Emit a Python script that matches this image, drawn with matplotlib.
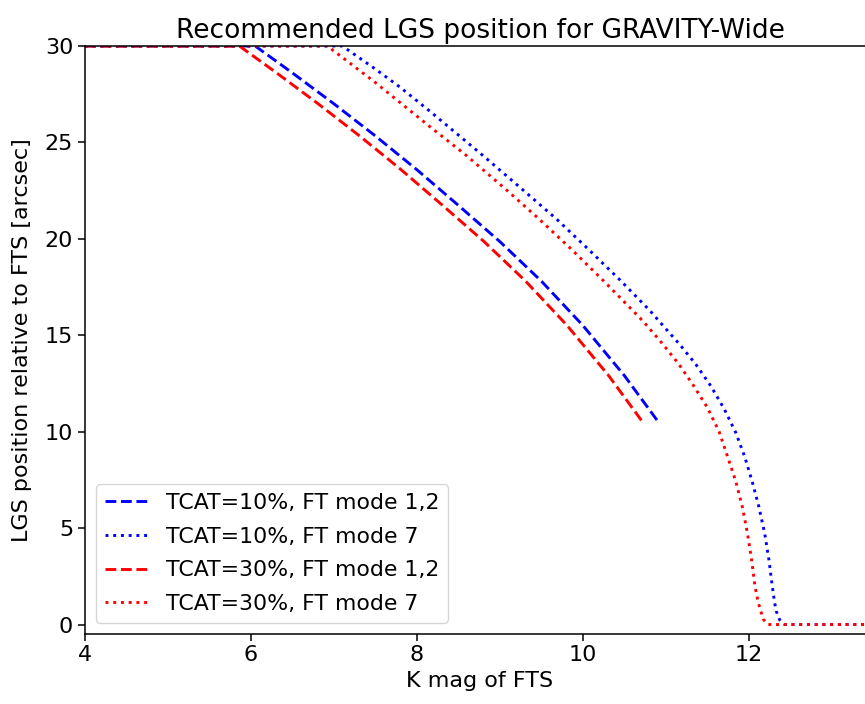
import matplotlib
matplotlib.use("Agg")
import matplotlib.pyplot as plt

# TCAT=10%, FT mode 1,2
x_b12 = [4.0, 6.05, 6.5, 7.0, 7.5, 8.0, 8.5, 9.0, 9.5, 10.0, 10.5, 10.9]
y_b12 = [30.0, 30.0, 28.6, 27.0, 25.33, 23.58, 21.73, 19.85, 17.8, 15.5, 12.9, 10.55]
# TCAT=10%, FT mode 7
x_b7 = [4.0, 7.1, 7.5, 7.8, 8.16, 8.8, 9.27, 9.68, 10.06, 10.44, 10.81, 10.95,
        11.16, 11.36, 11.54, 11.7, 11.84, 11.95, 12.04, 12.12, 12.19, 12.24,
        12.28, 12.31, 12.33, 12.37, 12.43, 14.0]
y_b7 = [30.0, 30.0, 28.8, 27.85, 26.6, 24.3, 22.56, 21.03, 19.48, 17.89, 16.26, 15.57,
        14.55, 13.49, 12.37, 11.19, 9.96, 8.68, 7.39, 6.09, 4.7, 3.36,
        2.0, 1.1, 0.67, 0.24, 0.0, 0.0]
# TCAT=30%, FT mode 1,2
x_r12 = [4.0, 5.86, 6.31, 6.81, 7.31, 7.81, 8.31, 8.81, 9.31, 9.81, 10.31, 10.71]
y_r12 = [30.0, 30.0, 28.6, 27.0, 25.33, 23.58, 21.73, 19.85, 17.8, 15.5, 12.9, 10.55]
# TCAT=30%, FT mode 7
x_r7 = [4.0, 6.92, 7.5, 8.16, 8.59, 9.07, 9.46, 9.85, 10.23, 10.6, 10.73, 10.95,
        11.15, 11.33, 11.5, 11.64, 11.74, 11.84, 11.92, 11.98, 12.03, 12.07,
        12.11, 12.14, 12.17, 12.23, 14.0]
y_r7 = [30.0, 30.0, 28.1, 25.8, 24.34, 22.57, 21.07, 19.5, 17.9, 16.28, 15.7, 14.6,
        13.53, 12.4, 11.24, 10.0, 8.73, 7.44, 6.1, 4.76, 3.41, 2.04,
        1.16, 0.73, 0.28, 0.0, 0.0]

labels = ["TCAT=10%, FT mode 1,2", "TCAT=10%, FT mode 7",
          "TCAT=30%, FT mode 1,2", "TCAT=30%, FT mode 7"]

W, H = 865, 704
fig = plt.figure(figsize=(W/100, H/100), dpi=100)
left, right, top, bottom = 85, 875, 46, 633.6
ax = fig.add_axes([left/W, 1-bottom/H, (right-left)/W, (bottom-top)/H])

lw = 2.1
ax.plot(x_b12, y_b12, color="blue", ls="--", lw=lw, label=labels[0])
ax.plot(x_b7, y_b7, color="blue", ls=":", lw=lw, label=labels[1])
ax.plot(x_r12, y_r12, color="red", ls="--", lw=lw, label=labels[2])
ax.plot(x_r7, y_r7, color="red", ls=":", lw=lw, label=labels[3])

ax.set_xlim(4, 4 + (right-left)/83.0)
ax.set_ylim(-0.47, 30)
ax.set_xticks([4, 6, 8, 10, 12])
ax.set_yticks([0, 5, 10, 15, 20, 25, 30])
ax.tick_params(labelsize=16, width=1.1, length=5)
for s in ax.spines.values():
    s.set_linewidth(1.1)
ax.spines["right"].set_visible(False)
ax.set_xlabel("K mag of FTS", fontsize=16)
ax.set_ylabel("LGS position relative to FTS [arcsec]", fontsize=16, labelpad=9)
ax.set_title("Recommended LGS position for GRAVITY-Wide", fontsize=19)
ax.legend(loc="lower left", fontsize=15.8, labelspacing=0.62)

fig.savefig("out.png", dpi=100)
